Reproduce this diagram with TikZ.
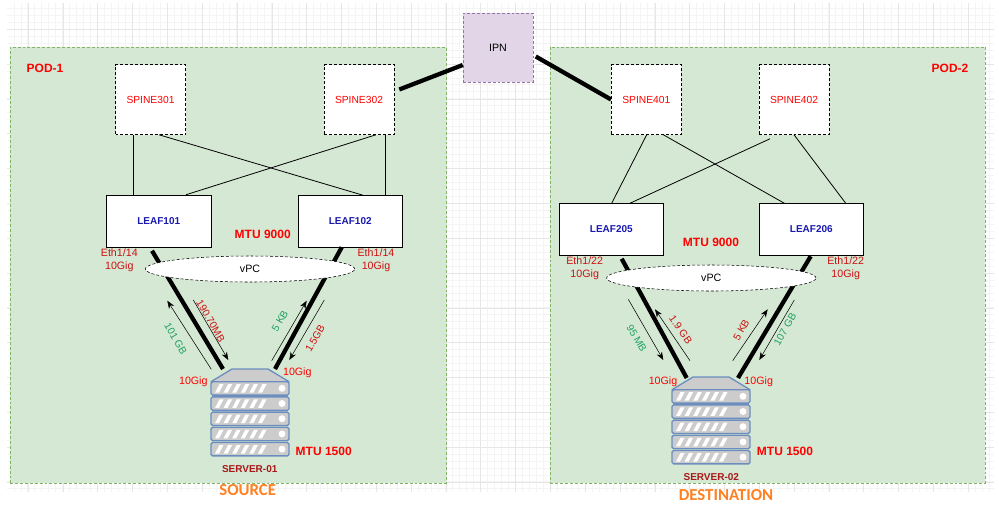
\documentclass[tikz,border=0pt]{standalone}
\usepackage{fontspec}
\setmainfont{Liberation Sans}
\newfontfamily\captionfont{Carlito}
\usepackage{tikz}
\usetikzlibrary{arrows.meta}
\usetikzlibrary{calc,positioning}
\usetikzlibrary{shapes.geometric}

\definecolor{podfill}{HTML}{D5E8D4}
\definecolor{podline}{HTML}{82B366}
\definecolor{ipnfill}{HTML}{E1D5E7}
\definecolor{ipnline}{HTML}{9673A6}
\definecolor{stackfill}{HTML}{CCCCCC}
\definecolor{stackline}{HTML}{6C8EBF}
\definecolor{gridmajor}{HTML}{E6E6E6}
\definecolor{gridminor}{HTML}{F4F4F4}
\definecolor{porttext}{HTML}{CC1111}
\definecolor{hosttext}{HTML}{A81818}
\definecolor{greentext}{HTML}{1FA060}
\definecolor{leaftext}{HTML}{1A1AB0}
\definecolor{sourcetext}{HTML}{FF8020}

\tikzset{
    finedash/.style = {dash pattern=on 2.2pt off 1.5pt},
    podbox/.style = {draw=podline, fill=podfill, finedash, minimum height=327pt, inner sep=0pt},
    spinebox/.style = {draw, fill=white, finedash, minimum width=52.5pt, minimum height=52.5pt, inner sep=0pt, text=red, font=\fontsize{7.7}{9}\selectfont},
    leafbox/.style = {draw, fill=white, minimum width=78.4pt, minimum height=39pt, inner sep=0pt, text=leaftext, font=\fontsize{7.5}{9}\selectfont\bfseries},
    vpcbox/.style = {draw, fill=white, finedash, ellipse, minimum width=157pt, minimum height=19.5pt, inner sep=0pt, font=\fontsize{8}{10}\selectfont},
    uplink/.style = {line width=3.2pt},
    fabric/.style = {line width=0.6pt},
    flow/.style = {->, line width=0.4pt},
    portlabel/.style = {text=porttext, align=center, inner sep=0pt, font=\fontsize{8}{9.75}\selectfont},
    giglabel/.style = {text=red, inner sep=0pt, font=\fontsize{8}{10}\selectfont},
    mtulabel/.style = {text=red, inner sep=0pt, font=\fontsize{9}{11}\selectfont\bfseries},
    hostlabel/.style = {text=hosttext, inner sep=0pt, font=\fontsize{7.5}{9}\selectfont\bfseries},
    redrate/.style = {text=porttext, inner sep=0pt, font=\fontsize{7.7}{9}\selectfont},
    greenrate/.style = {text=greentext, inner sep=0pt, font=\fontsize{7.7}{9}\selectfont},
    rolelabel/.style = {text=sourcetext, inner sep=0pt, font=\captionfont\fontsize{12.6}{14}\selectfont\bfseries},
    serverstack/.pic = {
        \coordinate (-top) at (0,0);
        \draw[draw=stackline, fill=stackfill, line width=1pt, line join=round] (-39,12.7) -- (-18,0) -- (18,0) -- (39,12.7) -- cycle;
        \foreach \r in {0,...,4} {
            \begin{scope}[yshift={-(12.7+15.2*\r)*0.75pt}]
                \draw[draw=stackline, fill=stackfill, line width=1pt, rounded corners=1.2pt] (-39,0) rectangle (39,13.4);
                \foreach \s in {0,...,5}
                    \fill[white] ({-35+8.6*\s},11) -- ({-30.5+8.6*\s},2.5) -- ({-26.5+8.6*\s},2.5) -- ({-31+8.6*\s},11) -- cycle;
                \fill[white] (32,6.6) circle (2.6pt);
            \end{scope}
        }
    }
}

\begin{document}
\begin{tikzpicture}[>={Stealth[length=6pt,width=4.5pt]}, x=0.75pt, y=-0.75pt]

    \useasboundingbox (0,0) rectangle (999,508);

    % sheet grid
    \foreach \i in {1,...,141} \draw[gridminor, line width=0.6pt] ({7+6.965*\i},3) -- ({7+6.965*\i},492);
    \foreach \i in {1,...,70} \draw[gridminor, line width=0.6pt] (7,{1.3+6.965*\i}) -- (994,{1.3+6.965*\i});
    \foreach \i in {0,...,27} \draw[gridmajor, line width=0.75pt] ({28.3+34.82*\i},3) -- ({28.3+34.82*\i},492);
    \foreach \i in {0,...,13} \draw[gridmajor, line width=0.75pt] (7,{29.3+34.85*\i}) -- (994,{29.3+34.85*\i});

    % pods
    \node[podbox, minimum width=327pt] (pod1) at (228,265) {};
    \node[podbox, minimum width=326.6pt] (pod2) at (767.75,265) {};
    \node[text=red, inner sep=0pt, font=\fontsize{9}{11}\selectfont\bfseries] (pod1label) at (45,68.3) {POD-1};
    \node[text=red, inner sep=0pt, font=\fontsize{9}{11}\selectfont\bfseries] (pod2label) at (950,68.3) {POD-2};

    \node[draw=ipnline, fill=ipnfill, finedash, minimum width=52.5pt, minimum height=52pt, inner sep=0pt, font=\fontsize{8}{10}\selectfont] (ipn) at (498,47.5) {IPN};

    \node[spinebox] (spine301) at (150.5,99.5) {SPINE301};
    \node[spinebox] (spine302) at (359,99.5) {SPINE302};
    \node[spinebox] (spine401) at (646.3,99.5) {SPINE401};
    \node[spinebox] (spine402) at (794,99.5) {SPINE402};

    \node[leafbox] (leaf101) at (158.75,221) {LEAF101};
    \node[leafbox] (leaf102) at (350.25,221) {LEAF102};
    \node[leafbox] (leaf205) at (611.3,229.5) {LEAF205};
    \node[leafbox] (leaf206) at (811.3,229.5) {LEAF206};

    % fabric links
    \draw[fabric] ([shift={(-17.5,0)}]spine301.south) -- ([shift={(-25.75,0)}]leaf101.north);
    \draw[fabric] ([shift={(8.5,0)}]spine301.south) -- ([shift={(12.75,0.5)}]leaf102.north);
    \draw[fabric] ([shift={(17,0)}]spine302.south) -- ([shift={(27.25,0)}]leaf101.north);
    \draw[fabric] ([shift={(26,0)}]spine302.south) -- ([shift={(34.75,0)}]leaf102.north);
    \draw[fabric] ([shift={(0.4,0)}]spine401.south) -- ([shift={(0.4,0)}]leaf205.north);
    \draw[fabric] ([shift={(17,0)}]spine401.south) -- ([shift={(-27,0)}]leaf206.north);
    \draw[fabric] ([shift={(-24,4)}]spine402.south) -- ([shift={(18.7,0)}]leaf205.north);
    \draw[fabric] ([shift={(0,0)}]spine402.south) -- ([shift={(34.4,0)}]leaf206.north);

    \draw[uplink] ([shift={(5,-10)}]spine302.east) -- ([shift={(0,17.5)}]ipn.west);
    \draw[uplink] ([shift={(2.5,9)}]ipn.east) -- (spine401.west);

    \pic (server01) at (250,369) {serverstack};
    \pic (server02) at (711,377) {serverstack};

    % server links
    \draw[uplink] ([shift={(-6.75,3.5)}]leaf101.south) -- ([shift={(-27,0)}]server01-top);
    \draw[uplink] ([shift={(-8.5,0)}]leaf102.south) -- ([shift={(25,0)}]server01-top);
    \draw[uplink] ([shift={(10.4,3)}]leaf205.south) -- ([shift={(-24.3,1)}]server02-top);
    \draw[uplink] ([shift={(-0.6,0.5)}]leaf206.south) -- ([shift={(27,1)}]server02-top);

    \node[vpcbox] (vpc1) at (250,269) {vPC};
    \node[vpcbox] (vpc2) at (711.3,278) {vPC};

    % traffic arrows
    \coordinate (a1s) at (211.3,369.3);
    \coordinate (a1e) at (167.3,300.7);
    \coordinate (a2s) at (193.3,300);
    \coordinate (a2e) at (228.3,360);
    \coordinate (a3s) at (271.7,360.7);
    \coordinate (a3e) at (306.7,300.7);
    \coordinate (a4s) at (324.3,300);
    \coordinate (a4e) at (289.3,360);
    \coordinate (b1s) at (628.3,299.3);
    \coordinate (b1e) at (663.3,360);
    \coordinate (b2s) at (690,360.7);
    \coordinate (b2e) at (655,309.3);
    \coordinate (b3s) at (732.7,360.7);
    \coordinate (b3e) at (767.7,309.3);
    \coordinate (b4s) at (794.3,300);
    \coordinate (b4e) at (759.3,360);
    \foreach \f in {a1,a2,a3,a4,b1,b2,b3,b4}
        \draw[flow] (\f s) -- (\f e);

    \node[greenrate, rotate=-60] (rate1) at (175.7,339) {101 GB};
    \node[redrate, rotate=-60] (rate2) at (210.7,321) {190.70MB};
    \node[greenrate, rotate=60] (rate3) at (280,321) {5 KB};
    \node[redrate, rotate=60] (rate4) at (315,338.3) {1.5GB};
    \node[greenrate, rotate=-60] (rate5) at (636.7,338.3) {95 MB};
    \node[redrate, rotate=-55] (rate6) at (680.7,330) {1.9 GB};
    \node[redrate, rotate=60] (rate7) at (741.3,330) {5 KB};
    \node[greenrate, rotate=60] (rate8) at (785,329.3) {107 GB};

    % labels
    \node[portlabel] (port101) at (119.3,260.2) {Eth1/14\\10Gig};
    \node[portlabel] (port102) at (376,260.2) {Eth1/14\\10Gig};
    \node[portlabel] (port205) at (584.7,268.7) {Eth1/22\\10Gig};
    \node[portlabel] (port206) at (845.7,268.7) {Eth1/22\\10Gig};

    \node[giglabel] (gig1) at (193.3,381.7) {10Gig};
    \node[giglabel] (gig2) at (297.3,373) {10Gig};
    \node[giglabel] (gig3) at (663,381.7) {10Gig};
    \node[giglabel] (gig4) at (758.7,381.7) {10Gig};

    \node[mtulabel] (mtu1) at (262.7,234) {MTU 9000};
    \node[mtulabel] (mtu2) at (711,242.7) {MTU 9000};
    \node[mtulabel] (mtu3) at (323.7,451.7) {MTU 1500};
    \node[mtulabel] (mtu4) at (785,451.7) {MTU 1500};

    \node[hostlabel] (host1) at (249.7,468.7) {SERVER-01};
    \node[hostlabel] (host2) at (711.3,477) {SERVER-02};

    \node[rolelabel] (source) at (247.7,490.5) {SOURCE};
    \node[rolelabel] (destination) at (726,495.5) {DESTINATION};

\end{tikzpicture}
\end{document}
